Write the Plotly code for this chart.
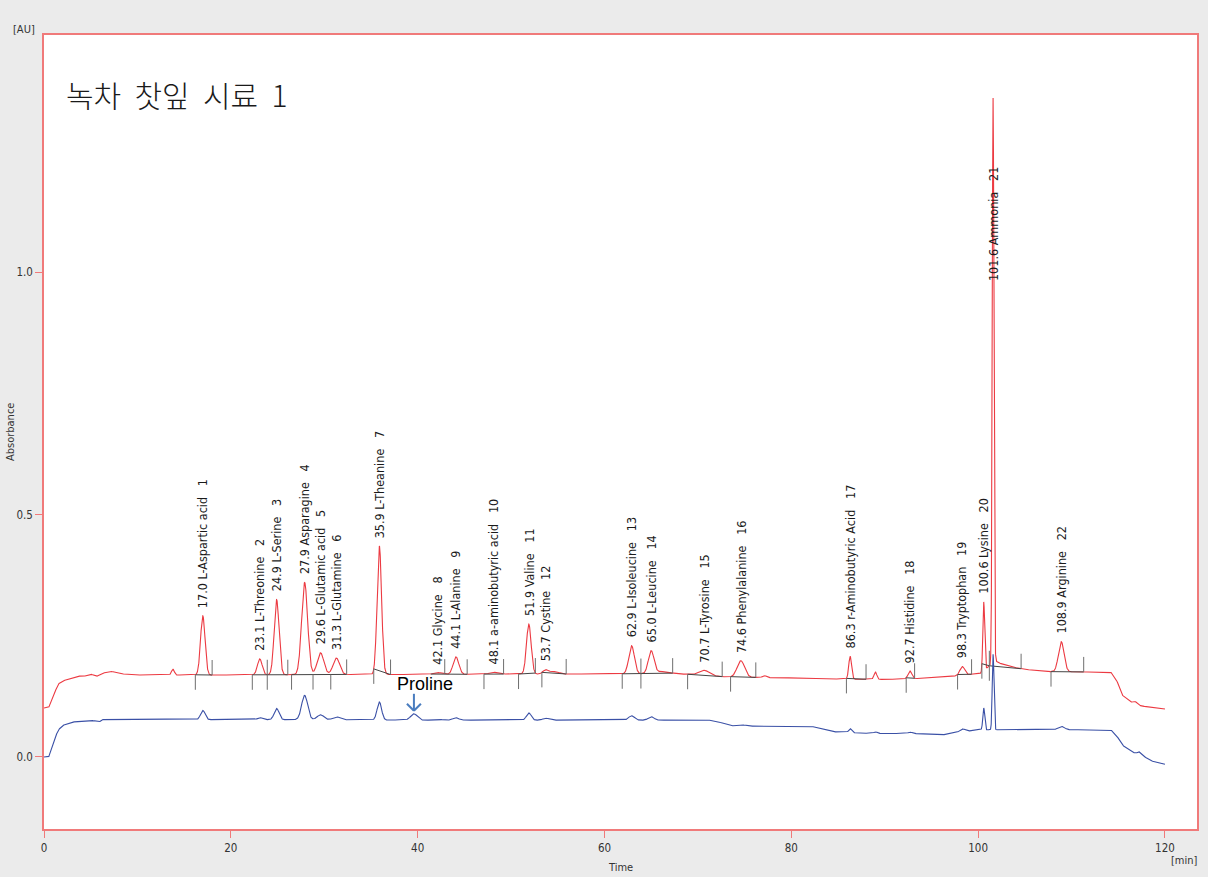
import numpy as np
import plotly.graph_objects as go

# ---------------- data ----------------
# time axis of the run (min)
t = np.round(np.arange(0, 120.0001, 0.01), 2)

# red channel: baseline readings (time, AU)
red_base_t = [0, 0.5, 1.0, 1.5, 2.0, 3.0, 3.6, 4.2, 5.0, 5.6, 6.2, 7.1, 8.1, 9.5, 20, 30, 40, 50, 60, 66,
              70, 73, 80, 84, 90, 94, 97, 100, 100.4, 101.2, 101.9, 102.2, 103.0, 103.6, 104.6, 105.8,
              107.0, 114.2, 114.8, 115.4, 116.2, 117.5, 120]
red_base_v = [0.101, 0.102, 0.125, 0.150, 0.157, 0.163, 0.167, 0.166, 0.171, 0.166, 0.172, 0.177, 0.172,
              0.169, 0.169, 0.170, 0.170, 0.171, 0.171, 0.172, 0.170, 0.165, 0.163, 0.161, 0.160, 0.162,
              0.166, 0.172, 0.173, 0.188, 0.198, 0.194, 0.189, 0.186, 0.182, 0.179, 0.176, 0.175, 0.160,
              0.128, 0.115, 0.105, 0.099]

# red channel peaks: retention time, height above baseline, width (sigma)
red_pk_t = [13.8, 17.0, 23.1, 24.9, 27.9, 29.6, 31.3, 35.9, 42.1, 44.1, 48.1, 51.9, 53.7, 54.6, 62.9, 65.0,
            66.2, 70.7, 74.6, 77.1, 86.3, 89.0, 92.7, 98.3, 100.6, 101.6, 108.9, 116.8]
red_pk_h = [0.012, 0.122, 0.033, 0.155, 0.190, 0.045, 0.034, 0.265, 0.004, 0.036, 0.004, 0.103, 0.008,
            0.005, 0.058, 0.046, 0.004, 0.010, 0.034, 0.004, 0.047, 0.015, 0.016, 0.018, 0.143, 1.165,
            0.062, 0.004]
red_pk_s = [0.15, 0.24, 0.25, 0.26, 0.32, 0.35, 0.35, 0.24, 0.40, 0.30, 0.40, 0.25, 0.30, 0.50, 0.30, 0.30,
            0.80, 0.50, 0.40, 0.20, 0.15, 0.15, 0.20, 0.25, 0.10, 0.09, 0.30, 0.15]

# blue channel: baseline readings (time, AU)
blue_base_t = [0, 0.5, 1.0, 1.5, 2.0, 3.0, 5.0, 5.9, 6.2, 10, 20, 30, 40, 50, 60, 70, 72, 73.5, 80, 82,
               84.5, 88, 94, 96, 97.5, 100, 114.2, 114.8, 115.4, 116.5, 117.5, 118.5, 120]
blue_base_v = [0.0, 0.0, 0.030, 0.055, 0.065, 0.072, 0.076, 0.072, 0.077, 0.077, 0.077, 0.077, 0.076, 0.076,
               0.076, 0.076, 0.074, 0.064, 0.063, 0.064, 0.052, 0.049, 0.048, 0.045, 0.050, 0.056, 0.056,
               0.045, 0.025, 0.010, 0.004, -0.008, -0.015]

# blue channel peaks
blue_pk_t = [17.0, 23.1, 24.9, 27.9, 29.6, 31.3, 35.9, 39.6, 42.1, 44.1, 51.9, 53.7, 62.9, 65.0, 70.7,
             74.6, 86.3, 89.0, 92.7, 98.3, 100.6, 101.6, 108.9, 117.2]
blue_pk_h = [0.019, 0.004, 0.023, 0.050, 0.010, 0.006, 0.037, 0.013, 0.002, 0.005, 0.015, 0.004, 0.009,
             0.007, 0.002, 0.003, 0.008, 0.003, 0.003, 0.006, 0.045, 0.156, 0.007, 0.005]
blue_pk_s = [0.24, 0.25, 0.26, 0.32, 0.35, 0.35, 0.24, 0.35, 0.40, 0.30, 0.25, 0.30, 0.30, 0.30, 0.50,
             0.40, 0.15, 0.15, 0.20, 0.25, 0.10, 0.09, 0.35, 0.15]

# identified compounds (red channel)
cmp_no = list(range(1, 23))
cmp_rt = [17.0, 23.1, 24.9, 27.9, 29.6, 31.3, 35.9, 42.1, 44.1, 48.1, 51.9, 53.7, 62.9, 65.0, 70.7, 74.6,
          86.3, 92.7, 98.3, 100.6, 101.6, 108.9]
cmp_name = ["L-Aspartic acid", "L-Threonine", "L-Serine", "Asparagine", "L-Glutamic acid", "L-Glutamine",
            "L-Theanine", "Glycine", "L-Alanine", "a-aminobutyric acid", "Valine", "Cystine",
            "L-Isoleucine", "L-Leucine", "L-Tyrosine", "Phenylalanine", "r-Aminobutyric Acid",
            "Histidine", "Tryptophan", "Lysine", "Ammonia", "Arginine"]

# integration baselines and peak start / end marks (min)
seg_start = [16.2, 22.3, 26.5, 35.3, 41.4, 47.1, 50.8, 53.3, 61.9, 68.9, 73.5, 85.9, 92.3, 97.8, 100.4,
             101.2, 107.8]
seg_end = [18.0, 26.1, 32.4, 37.1, 45.3, 49.2, 52.6, 55.9, 67.3, 72.6, 76.2, 88.0, 93.2, 99.3, 101.2,
           104.6, 111.3]
start_marks = [16.2, 22.3, 23.9, 26.5, 28.8, 30.7, 35.3, 47.1, 50.8, 53.3, 61.9, 63.9, 68.9, 73.5, 85.9,
               92.3, 97.8, 100.4, 101.2, 107.8]
end_marks = [18.0, 23.9, 26.1, 32.4, 37.1, 42.9, 45.3, 49.2, 52.6, 55.9, 63.9, 67.3, 72.6, 76.2, 88.0,
             93.2, 99.3, 101.2, 104.6, 111.3]

proline_rt = 39.6

# ---------------- signal ----------------
def signal(base_t, base_v, pk_t, pk_h, pk_s):
    y = np.interp(t, base_t, base_v)
    for c, h, s in zip(pk_t, pk_h, pk_s):
        y = y + h * np.exp(-0.5 * ((t - c) / s) ** 2)
    return y


red = signal(red_base_t, red_base_v, red_pk_t, red_pk_h, red_pk_s)
blue = signal(blue_base_t, blue_base_v, blue_pk_t, blue_pk_h, blue_pk_s)


def at(series, x):
    return float(np.interp(x, t, series))


# plot geometry (pixels) used to convert offsets to data units
X0, X1, Y_TOP, Y_BOT = 44, 1199, 35, 829
XR = [0, 123.43]
YR = [-0.1485, 1.4887]
px_y = (YR[1] - YR[0]) / (Y_BOT - Y_TOP)
px_x = (XR[1] - XR[0]) / (X1 - X0)

RED = "#ec3a42"
BLUE = "#3a50a6"
NARROW = "Liberation Sans Narrow, Arial Narrow, DejaVu Sans Condensed, sans-serif"

fig = go.Figure()
fig.add_trace(go.Scatter(x=t, y=red, mode="lines", line=dict(color=RED, width=1.1), hoverinfo="skip"))

# integration baselines
bx, by = [], []
for s, e in zip(seg_start, seg_end):
    bx += [s, e, None]
    by += [at(red, s), at(red, e), None]
fig.add_trace(go.Scatter(x=bx, y=by, mode="lines", line=dict(color="#444444", width=1), hoverinfo="skip"))


def seg_level(x):
    for s, e in zip(seg_start, seg_end):
        if s - 1e-9 <= x <= e + 1e-9:
            ys, ye = at(red, s), at(red, e)
            return ys + (ye - ys) * (x - s) / (e - s)
    return at(red, x)


tick_len = 15 * px_y
mx, my = [], []
for m in start_marks:
    lv = seg_level(m)
    mx += [m, m, None]
    my += [lv, lv - tick_len, None]
for m in end_marks:
    lv = seg_level(m)
    mx += [m, m, None]
    my += [lv, lv + tick_len, None]
fig.add_trace(go.Scatter(x=mx, y=my, mode="lines", line=dict(color="#6e6e6e", width=1), hoverinfo="skip"))

fig.add_trace(go.Scatter(x=t, y=blue, mode="lines", line=dict(color=BLUE, width=1.1), hoverinfo="skip"))

# compound labels
annotations = []
gap = 7 * px_y
for no, rt, name in zip(cmp_no, cmp_rt, cmp_name):
    win = (t > rt - 0.3) & (t < rt + 0.3)
    apex = float(red[win].max())
    y_lab = apex + gap
    if name == "Ammonia":
        y_lab = YR[1] - (282 - Y_TOP) * px_y
    annotations.append(dict(
        x=rt, y=y_lab, xref="x", yref="y", text=f"{rt:.1f} {name}\u00a0\u00a0\u00a0{no}",
        textangle=-90, xanchor="center", yanchor="bottom", showarrow=False,
        font=dict(family=NARROW, size=12.5, color="#1a1a1a"), borderpad=0))

# proline marker
pro_y = at(blue, proline_rt)
tip = pro_y + 3 * px_y
tail = tip + 17 * px_y
annotations.append(dict(x=proline_rt + 11.5 * px_x, y=tip + 27 * px_y, xref="x", yref="y", text="Proline",
                        showarrow=False, xanchor="center", yanchor="middle",
                        font=dict(family="Liberation Sans, Arial, sans-serif", size=18, color="#000000")))
ARROW = "#4a7dbf"
shapes = [
    dict(type="line", xref="x", yref="y", x0=proline_rt, x1=proline_rt, y0=tail, y1=tip,
         line=dict(color=ARROW, width=2)),
    dict(type="line", xref="x", yref="y", x0=proline_rt - 7 * px_x, x1=proline_rt, y0=tip + 7 * px_y, y1=tip,
         line=dict(color=ARROW, width=2)),
    dict(type="line", xref="x", yref="y", x0=proline_rt + 7 * px_x, x1=proline_rt, y0=tip + 7 * px_y, y1=tip,
         line=dict(color=ARROW, width=2)),
]

W = X1 - X0
H = Y_BOT - Y_TOP


def px(xp, yp):
    return (xp - X0) / W, (Y_BOT - yp) / H


for text, (xp, yp), anchor, ang, size, fam in [
    ("[AU]", (24, 30), "center", 0, 11, NARROW),
    ("Absorbance", (10, 432), "center", -90, 11, NARROW),
    ("Time", (622, 867), "center", 0, 11, NARROW),
    ("[min]", (1186, 860), "center", 0, 11, NARROW),
]:
    xx, yy = px(xp, yp)
    annotations.append(dict(x=xx, y=yy, xref="paper", yref="paper", text=text, showarrow=False,
                            xanchor=anchor, yanchor="middle", textangle=ang,
                            font=dict(family=fam, size=size, color="#333333")))

tx, ty = px(64, 94)
annotations.append(dict(x=tx, y=ty, xref="paper", yref="paper",
                        text="녹차\u00a0\u00a0찻잎\u00a0\u00a0시료\u00a0\u00a01", showarrow=False,
                        xanchor="left", yanchor="middle",
                        font=dict(family="Noto Sans CJK KR, sans-serif", size=30, color="#1a1a1a",
                                  weight=300)))

FRAME = "#f07a7a"
fig.update_layout(
    width=1208, height=877,
    margin=dict(l=X0, r=1208 - X1, t=Y_TOP, b=877 - Y_BOT),
    paper_bgcolor="#ebebeb", plot_bgcolor="#ffffff",
    showlegend=False,
    annotations=annotations, shapes=shapes,
    xaxis=dict(range=XR, tickvals=[0, 20, 40, 60, 80, 100, 120], showgrid=False, zeroline=False,
               showline=True, mirror=True, linecolor=FRAME, linewidth=1.5,
               ticks="outside", ticklen=7, tickcolor=FRAME, tickwidth=1,
               tickfont=dict(family=NARROW, size=11.5, color="#333333")),
    yaxis=dict(range=YR, tickvals=[0, 0.5, 1.0], ticktext=["0.0", "0.5", "1.0"], showgrid=False,
               zeroline=False, showline=True, mirror=True, linecolor=FRAME, linewidth=1.5,
               ticks="outside", ticklen=7, tickcolor=FRAME, tickwidth=1,
               tickfont=dict(family=NARROW, size=11.5, color="#333333")),
)

fig.write_html("out.html", config={"displayModeBar": False})
